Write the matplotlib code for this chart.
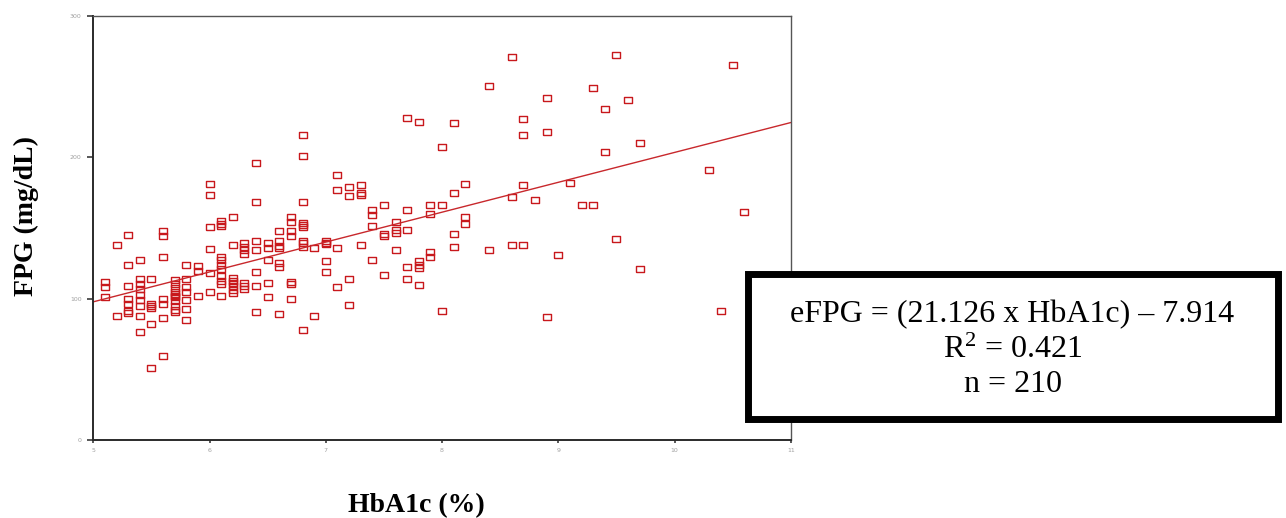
import matplotlib
matplotlib.use("Agg")
import matplotlib.pyplot as plt
from matplotlib.patches import Rectangle
import numpy as np

# data (HbA1c %, FPG mg/dL)
hba1c = [
    5.1, 5.1, 5.1,
    5.2, 5.2,
    5.3, 5.3, 5.3, 5.3, 5.3, 5.3, 5.3,
    5.4, 5.4, 5.4, 5.4, 5.4, 5.4, 5.4, 5.4, 5.4,
    5.5, 5.5, 5.5, 5.5, 5.5, 5.5,
    5.6, 5.6, 5.6, 5.6, 5.6, 5.6, 5.6,
    5.7, 5.7, 5.7, 5.7, 5.7, 5.7, 5.7, 5.7, 5.7, 5.7, 5.7,
    5.8, 5.8, 5.8, 5.8, 5.8, 5.8, 5.8,
    5.9, 5.9, 5.9,
    6.0, 6.0, 6.0, 6.0, 6.0, 6.0,
    6.1, 6.1, 6.1, 6.1, 6.1, 6.1, 6.1, 6.1, 6.1, 6.1, 6.1,
    6.2, 6.2, 6.2, 6.2, 6.2, 6.2, 6.2, 6.2,
    6.3, 6.3, 6.3, 6.3, 6.3, 6.3, 6.3,
    6.4, 6.4, 6.4, 6.4, 6.4, 6.4, 6.4,
    6.5, 6.5, 6.5, 6.5, 6.5,
    6.6, 6.6, 6.6, 6.6, 6.6, 6.6, 6.6,
    6.7, 6.7, 6.7, 6.7, 6.7, 6.7, 6.7,
    6.8, 6.8, 6.8, 6.8, 6.8, 6.8, 6.8, 6.8, 6.8, 6.8,
    6.9, 6.9,
    7.0, 7.0, 7.0, 7.0, 7.0,
    7.1, 7.1, 7.1, 7.1,
    7.2, 7.2, 7.2, 7.2,
    7.3, 7.3, 7.3, 7.3,
    7.4, 7.4, 7.4, 7.4,
    7.5, 7.5, 7.5, 7.5,
    7.6, 7.6, 7.6, 7.6,
    7.7, 7.7, 7.7, 7.7, 7.7,
    7.8, 7.8, 7.8, 7.8, 7.8,
    7.9, 7.9, 7.9, 7.9,
    8.0, 8.0, 8.0,
    8.1, 8.1, 8.1, 8.1,
    8.2, 8.2, 8.2,
    8.4, 8.4,
    8.6, 8.6, 8.6,
    8.7, 8.7, 8.7, 8.7,
    8.8,
    8.9, 8.9, 8.9,
    9.0, 9.1, 9.2,
    9.3, 9.3,
    9.4, 9.4,
    9.5, 9.5,
    9.6,
    9.7, 9.7,
    10.3, 10.4, 10.5, 10.6,
]
fpg = [
    112, 108.5, 101,
    138, 88,
    145, 124, 109, 99.5, 96.5, 91, 89.5,
    127, 114, 110, 107, 102.5, 99, 95, 88, 76.5,
    113.5, 96.5, 95, 93.5, 82, 51,
    148, 144.5, 129.5, 100, 96, 86, 59.5,
    113, 110, 107.5, 104.5, 103, 102, 101, 98.5, 95, 92, 90.5,
    124, 113.5, 108, 105, 99, 92.5, 85,
    123, 119.5, 102,
    181, 173, 150.5, 135, 118, 105,
    155, 153, 151, 129.5, 127, 124, 121, 116, 112.5, 110, 102,
    158, 138, 114.5, 112.5, 111, 109, 106, 104,
    139.5, 136.5, 134, 131.5, 111, 109, 106.5,
    196, 168.5, 141, 134.5, 119, 109, 90.5,
    139, 136, 127, 111, 101,
    147.5, 140.5, 137.5, 135.5, 125, 122, 89,
    158, 154, 147.5, 144.5, 112, 110.5, 99.5,
    215.5, 200.5, 168.5, 153.5, 152, 150.5, 141, 139, 136.5, 77.5,
    135.5, 88,
    140.5, 139.5, 138.5, 126.5, 119,
    187.5, 177, 135.5, 108.5,
    179, 172.5, 113.5, 95.5,
    180, 174.5, 173, 138,
    162.5, 159, 151.5, 127.5,
    166.5, 146, 144.5, 117,
    154, 148.5, 146.5, 134,
    228, 162.5, 148.5, 122, 113.5,
    225, 126.5, 123.5, 121.5, 109.5,
    166.5, 160, 133, 129.5,
    207.5, 166.5, 91.5,
    224.5, 175, 146, 136.5,
    181, 158, 152.5,
    250.5, 134.5,
    271, 172, 138,
    227, 216, 180, 138,
    169.5,
    242, 217.5, 87,
    130.5, 182, 166.5,
    249, 166.5,
    234, 203.5,
    272, 142,
    240.5,
    210, 121,
    191, 91.5, 265, 161,
]

# regression from the paper
slope = 21.126
intercept = -7.914
r_squared = 0.421
n_subjects = 210

x_ticks = [5, 6, 7, 8, 9, 10, 11]
y_ticks = [0, 100, 200, 300]

plt.rcParams['mathtext.fontset'] = 'custom'
plt.rcParams['mathtext.rm'] = 'Liberation Serif'
plt.rcParams['mathtext.it'] = 'Liberation Serif:italic'

fig = plt.figure(figsize=(12.86, 5.18), dpi=100)
ax = fig.add_axes([0.0726, 0.1506, 0.5423, 0.8190])

# slightly wide open squares like the SPSS output
box_marker = [(-1, -0.75), (1, -0.75), (1, 0.75), (-1, 0.75), (-1, -0.75)]
ax.plot(hba1c, fpg, linestyle='none', marker=box_marker, markersize=5.5,
        markerfacecolor='none', markeredgecolor='#c8181c', markeredgewidth=1.0)

line_x = np.array([5, 11])
ax.plot(line_x, slope * line_x + intercept, color='#c8282c', linewidth=1.0)

ax.set_xlim(5, 11)
ax.set_ylim(0, 300)
ax.set_xticks(x_ticks)
ax.set_yticks(y_ticks)
ax.set_xticklabels([str(t) for t in x_ticks])
ax.set_yticklabels([str(t) for t in y_ticks])

for side in ['left', 'bottom']:
    ax.spines[side].set_color('#2a2a2a')
    ax.spines[side].set_linewidth(1.4)
for side in ['top', 'right']:
    ax.spines[side].set_color('#555555')
    ax.spines[side].set_linewidth(1.0)

ax.tick_params(axis='y', direction='out', length=4.5, width=1.1, color='#2a2a2a',
               labelsize=4.5, labelcolor='#a0a0a0', pad=4)
ax.tick_params(axis='x', direction='out', length=2, width=1.1, color='#2a2a2a',
               labelsize=4.5, labelcolor='#a0a0a0', pad=4)

fig.text(26 / 1286, 1 - 216 / 518, 'FPG (mg/dL)', rotation=90, ha='center', va='center',
         fontsize=20, fontweight='bold', family='Liberation Serif')
fig.text(416 / 1286, 1 - 506 / 518, 'HbA1c (%)', ha='center', va='center',
         fontsize=20, fontweight='bold', family='Liberation Serif')

# equation box
box = Rectangle((747.5 / 1286, 1 - 419 / 518), 530 / 1286, 145 / 518,
                transform=fig.transFigure, facecolor='white', edgecolor='black',
                linewidth=5.0, zorder=2)
fig.add_artist(box)

cx = 1012.5 / 1286
fig.text(cx, 1 - 315 / 518, 'eFPG = (%.3f x HbA1c) \u2013 %.3f' % (slope, -intercept),
         ha='center', va='center', fontsize=23, family='Liberation Serif', zorder=3)
fig.text(cx, 1 - 350 / 518, 'R$^{\\mathrm{2}}$ = %.3f' % r_squared,
         ha='center', va='center', fontsize=23, family='Liberation Serif', zorder=3)
fig.text(cx, 1 - 385 / 518, 'n = %d' % n_subjects,
         ha='center', va='center', fontsize=23, family='Liberation Serif', zorder=3)

plt.savefig('out.png', dpi=100)
plt.close()
